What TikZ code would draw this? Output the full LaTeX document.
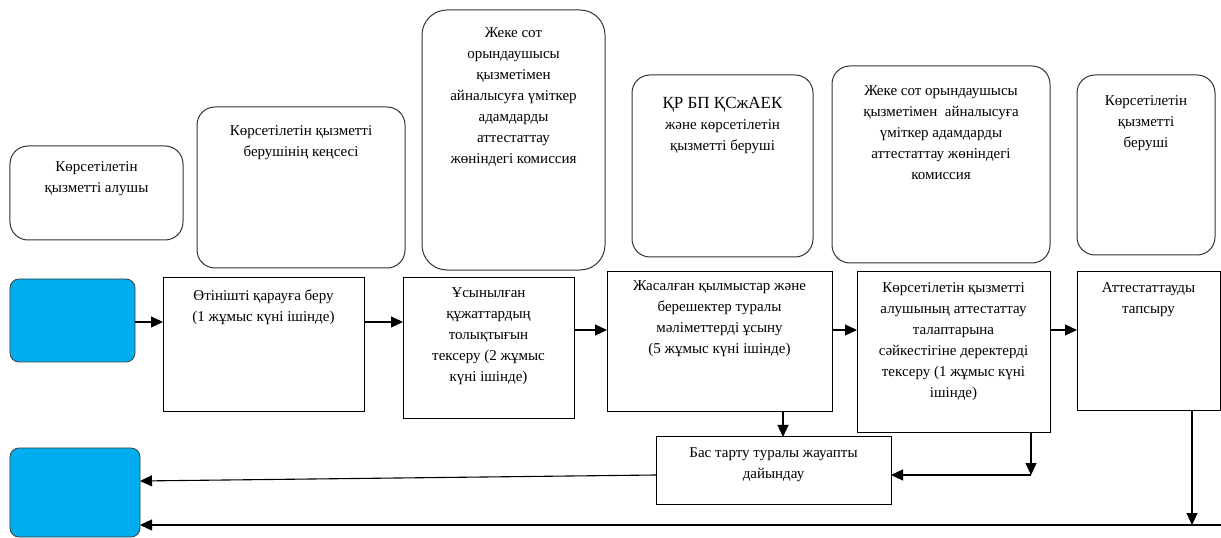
\documentclass[tikz,border=0pt]{standalone}
\usepackage{fontspec}
\setmainfont{Liberation Serif}
\usetikzlibrary{arrows.meta}
\definecolor{termblue}{RGB}{0,174,239}
\begin{document}
\begin{tikzpicture}[x=1bp,y=-1bp,
  lane/.style={draw=black!80, line width=1bp, rounded corners=18bp, minimum width=#1, inner sep=0pt, outer sep=0pt},
  stepbox/.style={draw=black, line width=1bp, inner sep=0pt, outer sep=0pt},
  term/.style={draw=black!75, line width=0.8bp, fill=termblue, rounded corners=9bp, inner sep=0pt, outer sep=0pt},
  txt/.style={align=center, inner sep=0pt, anchor=north, font=\fontsize{15bp}{21bp}\selectfont},
  arr/.style={line width=1.1bp, -{Triangle[length=12bp,width=11bp]}},
  ln/.style={line width=1.1bp}
]
\useasboundingbox (0,0) rectangle (1221,538);

% lanes (top rounded boxes)
\node[lane=173bp, minimum height=94bp] (l1) at (96.5,193) {};
\node[lane=208bp, minimum height=161bp] (l2) at (301,187.5) {};
\node[lane=183bp, minimum height=260bp, rounded corners=25bp] (l3) at (513.5,140) {};
\node[lane=181bp, minimum height=182bp] (l4) at (722.5,166) {};
\node[lane=218bp, minimum height=197bp] (l5) at (941,164.5) {};
\node[lane=138bp, minimum height=180bp] (l6) at (1146,165) {};

\node[txt] (l1t) at (96.5,161) {Көрсетілетін\\қызметті алушы};
\node[txt] (l2t) at (301,125) {Көрсетілетін қызметті\\берушінің кеңсесі};
\node[txt] (l3t) at (513.5,27) {Жеке сот\\орындаушысы\\қызметімен\\айналысуға үміткер\\адамдарды\\аттестаттау\\жөніндегі комиссия};
\node[txt] (l4t) at (722.5,97) {{\fontsize{17bp}{21bp}\selectfont ҚР БП ҚСжАЕК}\\және көрсетілетін\\қызметті беруші};
\node[txt] (l5t) at (941,85) {Жеке сот орындаушысы\\қызметімен\ \ айналысуға\\үміткер адамдарды\\аттестаттау жөніндегі\\комиссия};
\node[txt] (l6t) at (1146,95) {Көрсетілетін\\қызметті\\беруші};

% terminals
\node[term, minimum width=125bp, minimum height=83bp] (b1) at (72.5,320.5) {};
\node[term, minimum width=130bp, minimum height=89bp] (b2) at (75,492.5) {};

% steps
\node[stepbox, minimum width=201bp, minimum height=133bp] (A) at (263.5,344.5) {};
\node[stepbox, minimum width=171bp, minimum height=140bp] (B) at (488.5,348) {};
\node[stepbox, minimum width=225bp, minimum height=139bp] (C) at (719.5,341.5) {};
\node[stepbox, minimum width=193bp, minimum height=160bp] (D) at (953.5,352) {};
\node[stepbox, minimum width=143bp, minimum height=138bp] (E) at (1148.5,341) {};
\node[stepbox, minimum width=235bp, minimum height=67bp] (R) at (773.5,470.5) {};

\node[txt] (At) at (263.5,290) {Өтінішті қарауға беру\\(1 жұмыс күні ішінде)};
\node[txt] (Bt) at (488.5,287) {Ұсынылған\\құжаттардың\\толықтығын\\тексеру (2 жұмыс\\күні ішінде)};
\node[txt] (Ct) at (719.5,280) {Жасалған қылмыстар және\\берешектер туралы\\мәліметтерді ұсыну\\(5 жұмыс күні ішінде)};
\node[txt] (Dt) at (953.5,282) {Көрсетілетін қызметті\\алушының аттестаттау\\талаптарына\\сәйкестігіне деректерді\\тексеру (1 жұмыс күні\\ішінде)};
\node[txt] (Et) at (1148.5,282) {Аттестаттауды\\тапсыру};
\node[txt] (Rt) at (773.5,447) {Бас тарту туралы жауапты\\дайындау};

% helper coordinates
\coordinate (r1) at (0,322);
\coordinate (r2) at (0,330);
\coordinate (v1) at (783,0);
\coordinate (v2) at (1031,0);
\coordinate (h1) at (0,475);
\coordinate (h2) at (0,481);
\coordinate (v3) at (1192,0);
\coordinate (h3) at (0,525);
\coordinate (edge) at (1221,525);

% connectors
\draw[arr] (b1.east |- r1) -- (r1 -| A.west);
\draw[arr] (r1 -| A.east) -- (r1 -| B.west);
\draw[arr] (r2 -| B.east) -- (r2 -| C.west);
\draw[arr] (r2 -| C.east) -- (r2 -| D.west);
\draw[arr] (r2 -| D.east) -- (r2 -| E.west);
\draw[arr] (v1 |- C.south) -- (v1 |- R.north);
\draw[arr] (v2 |- D.south) -- (v2 |- h1);
\draw[arr] (v2 |- h1) -- (h1 -| R.east);
\draw[arr] (h1 -| R.west) -- (h2 -| b2.east);
\draw[arr] (v3 |- E.south) -- (v3 |- h3);
\draw[arr] (edge) -- (h3 -| b2.east);
\end{tikzpicture}
\end{document}
